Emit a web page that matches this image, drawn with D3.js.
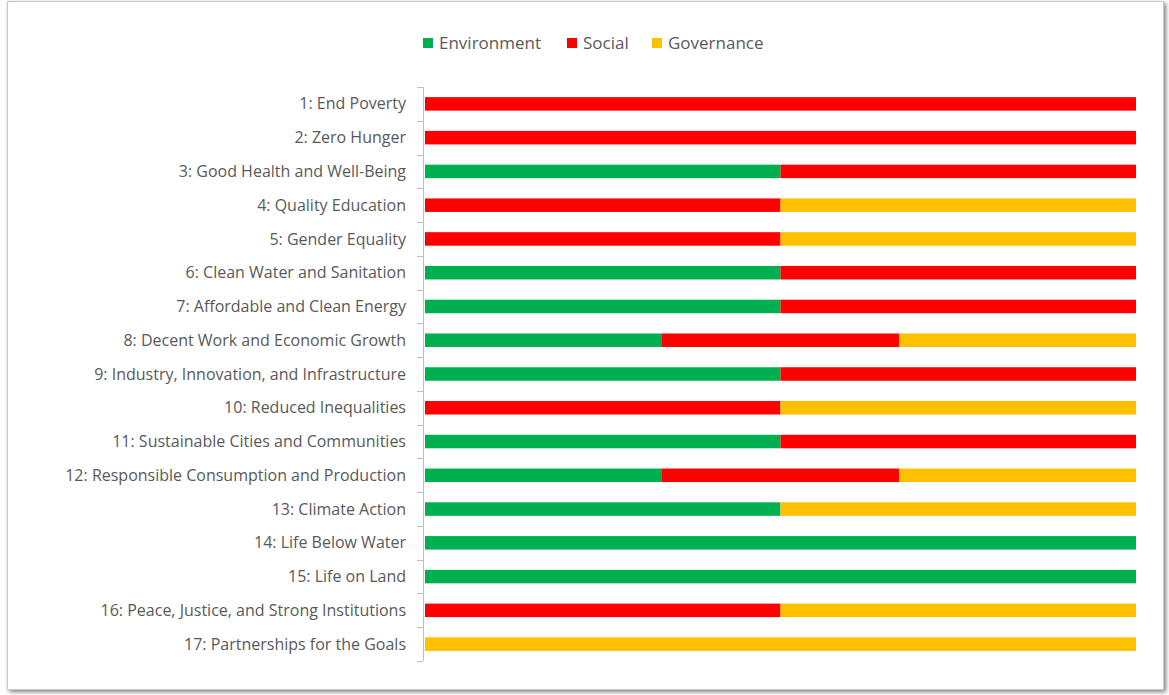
<!DOCTYPE html>
<html>
<head>
<meta charset="utf-8">
<script src="https://cdn.jsdelivr.net/npm/d3@7"></script>
<style>
  body { margin: 0; background: #fff; }
  #chart { width: 1169px; height: 695px; }
  text { font-family: "Open Sans", "Noto Sans", sans-serif; }
</style>
</head>
<body>
<div id="chart"></div>
<script>
const goals = [
  "1: End Poverty",
  "2: Zero Hunger",
  "3: Good Health and Well-Being",
  "4: Quality Education",
  "5: Gender Equality",
  "6: Clean Water and Sanitation",
  "7: Affordable and Clean Energy",
  "8: Decent Work and Economic Growth",
  "9: Industry, Innovation, and Infrastructure",
  "10: Reduced Inequalities",
  "11: Sustainable Cities and Communities",
  "12: Responsible Consumption and Production",
  "13: Climate Action",
  "14: Life Below Water",
  "15: Life on Land",
  "16: Peace, Justice, and Strong Institutions",
  "17: Partnerships for the Goals"
];
const environment = [0, 0, 1, 0, 0, 1, 1, 1, 1, 0, 1, 1, 1, 1, 1, 0, 0];
const social      = [1, 1, 1, 1, 1, 1, 1, 1, 1, 1, 1, 1, 0, 0, 0, 1, 0];
const governance  = [0, 0, 0, 1, 1, 0, 0, 1, 0, 1, 0, 1, 1, 0, 0, 1, 1];
const seriesNames = ["Environment", "Social", "Governance"];
const seriesColors = ["#00B050", "#FF0000", "#FFC000"];

const width = 1169, height = 695;
const margin = { top: 87, right: 33, bottom: 34, left: 425 };

const svg = d3.select("#chart").append("svg")
  .attr("width", width)
  .attr("height", height);

// frame with soft shadow
const defs = svg.append("defs");
const f = defs.append("filter").attr("id", "shadow")
  .attr("x", "-5%").attr("y", "-5%").attr("width", "110%").attr("height", "110%");
f.append("feDropShadow").attr("dx", 2).attr("dy", 2).attr("stdDeviation", 2)
  .attr("flood-color", "#000").attr("flood-opacity", 0.5);

svg.append("rect")
  .attr("x", 7.5).attr("y", 1.5)
  .attr("width", 1156).attr("height", 688)
  .attr("fill", "#fff")
  .attr("stroke", "#c8c8c8")
  .attr("filter", "url(#shadow)");

const rows = goals.map((g, i) => {
  const total = environment[i] + social[i] + governance[i];
  return {
    goal: g,
    Environment: environment[i] / total,
    Social: social[i] / total,
    Governance: governance[i] / total
  };
});

const stacked = d3.stack().keys(seriesNames)(rows);

const x = d3.scaleLinear()
  .domain([0, 1])
  .range([margin.left, width - margin.right]);

const yCat = d3.scaleBand()
  .domain(goals)
  .range([margin.top, height - margin.bottom]);

const y = d3.scaleBand()
  .domain(goals)
  .range([margin.top, height - margin.bottom])
  .paddingInner(0.6)
  .paddingOuter(0.3);

const color = d3.scaleOrdinal().domain(seriesNames).range(seriesColors);

// bars
svg.append("g")
  .selectAll("g")
  .data(stacked)
  .join("g")
  .attr("fill", d => color(d.key))
  .selectAll("rect")
  .data(d => d)
  .join("rect")
  .attr("x", d => x(d[0]))
  .attr("y", d => y(d.data.goal))
  .attr("width", d => x(d[1]) - x(d[0]))
  .attr("height", y.bandwidth());

// category axis
const axisX = margin.left - 2;
const axisG = svg.append("g");
axisG.append("line")
  .attr("x1", axisX + 0.5).attr("x2", axisX + 0.5)
  .attr("y1", yCat.range()[0]).attr("y2", yCat.range()[1])
  .attr("stroke", "#bfbfbf");

const boundaries = goals.map(g => yCat(g)).concat([yCat.range()[1]]);
axisG.selectAll(".tick-mark")
  .data(boundaries)
  .join("line")
  .attr("x1", axisX - 6).attr("x2", axisX)
  .attr("y1", d => Math.round(d) + 0.5).attr("y2", d => Math.round(d) + 0.5)
  .attr("stroke", "#bfbfbf");

axisG.selectAll(".label")
  .data(goals)
  .join("text")
  .attr("x", 406)
  .attr("y", d => yCat(d) + yCat.bandwidth() / 2)
  .attr("dy", "0.35em")
  .attr("text-anchor", "end")
  .attr("fill", "#595959")
  .style("font-size", "16px")
  .text(d => d);

// legend
const legendPos = [423, 567, 652];
const legend = svg.append("g")
  .selectAll("g")
  .data(seriesNames)
  .join("g")
  .attr("transform", (d, i) => `translate(${legendPos[i]}, 38)`);

legend.append("rect")
  .attr("width", 10).attr("height", 10)
  .attr("fill", d => color(d));

legend.append("text")
  .attr("x", 16).attr("y", 5)
  .attr("dy", "0.35em")
  .attr("fill", "#595959")
  .style("font-size", "17px")
  .text(d => d);
</script>
</body>
</html>
